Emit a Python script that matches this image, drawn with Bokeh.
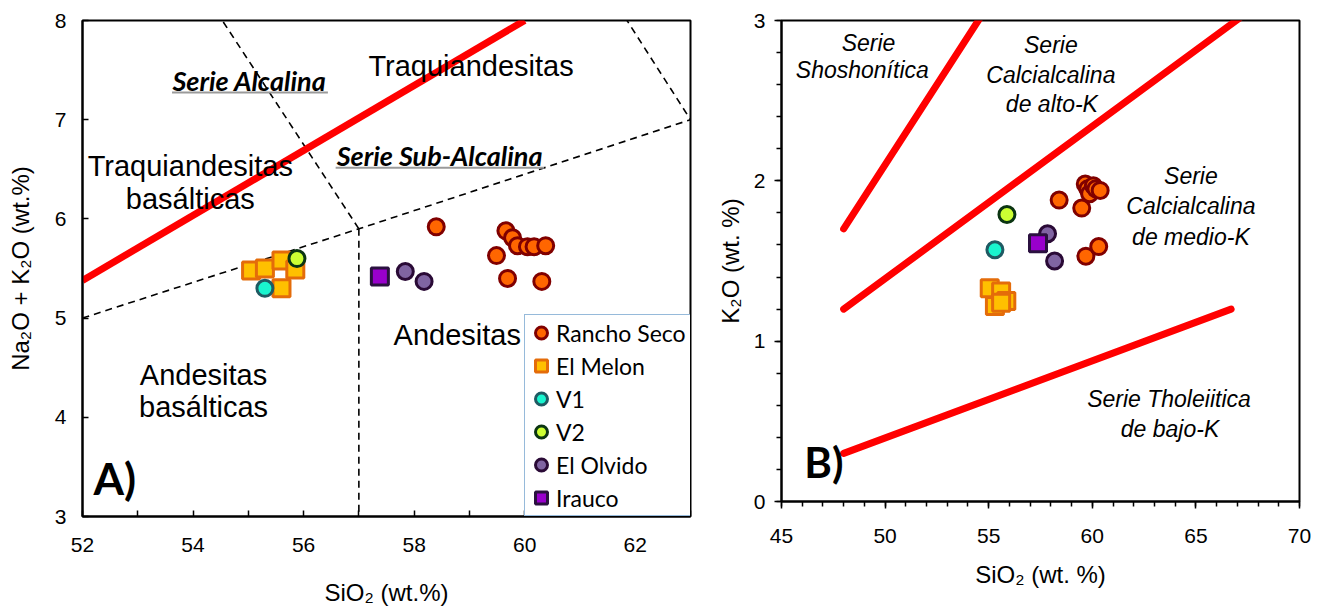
from bokeh.plotting import figure
from bokeh.models import Range1d, FixedTicker, Legend, LegendItem
from bokeh.layouts import row
from bokeh.embed import file_html
from bokeh.resources import INLINE
from bokeh.core.properties import value

# ---------------- data ----------------
rs_sio2 = [58.40, 59.66, 59.78, 59.87, 60.05, 60.17, 60.38, 59.49, 59.69, 60.31]
rs_alk = [5.92, 5.88, 5.81, 5.73, 5.72, 5.72, 5.73, 5.63, 5.40, 5.37]
rs_k2o = [1.88, 1.98, 1.95, 1.92, 1.97, 1.95, 1.94, 1.83, 1.53, 1.59]

em_sio2 = [55.05, 55.30, 55.60, 55.85, 55.60]
em_alk = [5.48, 5.50, 5.58, 5.49, 5.30]
em_k2o = [1.33, 1.22, 1.31, 1.25, 1.24]

v1_sio2 = [55.30]
v1_alk = [5.30]
v1_k2o = [1.57]

v2_sio2 = [55.88]
v2_alk = [5.60]
v2_k2o = [1.79]

eo_sio2 = [57.84, 58.18]
eo_alk = [5.47, 5.37]
eo_k2o = [1.67, 1.50]

ir_sio2 = [57.38]
ir_alk = [5.42]
ir_k2o = [1.61]

series_names = ["Rancho Seco", "El Melon", "V1", "V2", "El Olvido", "Irauco"]

# TAS boundaries (dashed) and alkaline / sub-alkaline divide (red)
tas_b1_x = [53.0, 57.0]
tas_b1_y = [9.3, 5.9]
tas_b2_x = [52.0, 57.0, 63.0]
tas_b2_y = [5.0, 5.9, 7.0]
tas_b3_x = [57.0, 57.0]
tas_b3_y = [5.9, 3.0]
tas_b4_x = [57.6, 63.0]
tas_b4_y = [11.7, 7.0]
alk_x = [52.0, 60.0]
alk_y = [5.38, 8.0]

# K2O vs SiO2 series boundaries
sho_x = [48.0, 56.0]
sho_y = [1.7, 3.3]
hk_x = [48.0, 68.0]
hk_y = [1.2, 3.1]
lk_x = [48.0, 66.7]
lk_y = [0.3, 1.2]

# ---------------- styles ----------------
ARIAL = "Liberation Sans"
CAL = "Lato"
styles = [
    dict(marker="circle", fill_color="#FF6600", line_color="#800000"),
    dict(marker="square", fill_color="#FFC000", line_color="#E46C0A"),
    dict(marker="circle", fill_color="#19F5CF", line_color="#1F5A63"),
    dict(marker="circle", fill_color="#CCFF33", line_color="#0B3512"),
    dict(marker="circle", fill_color="#8064A2", line_color="#2A0A36"),
    dict(marker="square", fill_color="#9900CC", line_color="#2B1140"),
]


def style_axes(p):
    p.outline_line_color = "black"
    p.outline_line_width = 2
    p.xgrid.visible = False
    p.ygrid.visible = False
    for ax in (p.xaxis[0], p.yaxis[0]):
        ax.axis_line_width = 2
        ax.major_tick_line_width = 1.5
        ax.minor_tick_line_width = 1.5
        ax.major_label_text_font = ARIAL
        ax.major_label_text_font_size = "21px"
        ax.major_label_text_color = "black"
        ax.axis_label_text_font = ARIAL
        ax.axis_label_text_font_size = "24px"
        ax.axis_label_text_font_style = "normal"
        ax.axis_label_text_color = "black"


# ---------------- panel A ----------------
pa = figure(frame_width=608, frame_height=496, min_border_left=82, min_border_right=23,
            min_border_top=20, min_border_bottom=89,
            x_range=Range1d(52, 63), y_range=Range1d(3, 8),
            output_backend="svg", toolbar_location=None)
style_axes(pa)
pa.xaxis.ticker = FixedTicker(ticks=[52, 54, 56, 58, 60, 62], minor_ticks=[53, 55, 57, 59, 61, 63])
pa.yaxis.ticker = FixedTicker(ticks=[3, 4, 5, 6, 7, 8], minor_ticks=[])
for ax in (pa.xaxis[0], pa.yaxis[0]):
    ax.major_tick_in = 6
    ax.major_tick_out = 0
    ax.minor_tick_in = 6
    ax.minor_tick_out = 0
pa.xaxis.major_label_standoff = 21
pa.xaxis.axis_label_standoff = 24
pa.yaxis.major_label_standoff = 16
pa.yaxis.axis_label_standoff = 18
pa.xaxis.axis_label = "SiO₂ (wt.%)"
pa.yaxis.axis_label = "Na₂O + K₂O (wt.%)"

dash = "7 5"
pa.line(tas_b1_x, tas_b1_y, line_color="black", line_width=1.6, line_dash=dash)
pa.line(tas_b2_x, tas_b2_y, line_color="black", line_width=1.6, line_dash=dash)
pa.line(tas_b3_x, tas_b3_y, line_color="black", line_width=1.6, line_dash=dash)
pa.line(tas_b4_x, tas_b4_y, line_color="black", line_width=1.6, line_dash=dash)
pa.line(alk_x, alk_y, line_color="#FF0000", line_width=7)

region = dict(text_font=value(ARIAL), text_font_size="29px", text_align="center",
              text_baseline="middle")
pa.text(x=[59.03], y=[7.54], text=["Traquiandesitas"], **region)
pa.text(x=[53.95, 53.95], y=[6.53, 6.20], text=["Traquiandesitas", "basálticas"], **region)
pa.text(x=[58.78], y=[4.83], text=["Andesitas"], **region)
pa.text(x=[54.19, 54.19], y=[4.43, 4.10], text=["Andesitas", "basálticas"], **region)
pa.text(x=[55.02, 58.46], y=[7.40, 6.64], text=["Serie Alcalina", "Serie Sub-Alcalina"],
        text_font=value(CAL), text_font_size="27px", text_font_style="bold italic",
        text_align="center", text_baseline="middle")
pa.segment(x0=[53.62, 56.58], y0=[7.275, 6.515], x1=[56.44, 60.35], y1=[7.275, 6.515],
           line_color="#9A9A9A", line_width=2)
pa.text(x=[52.2], y=[3.39], text=["A)"], text_font=value(CAL), text_font_size="44px",
        text_font_style="bold", text_align="left", text_baseline="middle")

a_data = [(rs_sio2, rs_alk), (em_sio2, em_alk), (v1_sio2, v1_alk),
          (v2_sio2, v2_alk), (eo_sio2, eo_alk), (ir_sio2, ir_alk)]
a_rends = []
for (xs, ys), st in zip(a_data, styles):
    size = 17 if st["marker"] == "square" else 16
    r = pa.scatter(xs, ys, size=size, line_width=3, **st)
    a_rends.append(r)

legend = Legend(items=[LegendItem(label=n, renderers=[r]) for n, r in zip(series_names, a_rends)],
                location=(442, 0), padding=1, margin=0, spacing=0,
                glyph_width=30, glyph_height=33, label_standoff=0, label_width=134,
                label_height=20,
                label_text_font=CAL, label_text_font_size="23px", label_text_color="black",
                border_line_color="#2E75B6", border_line_width=1.5,
                background_fill_color="white", background_fill_alpha=1.0)
pa.add_layout(legend)

# ---------------- panel B ----------------
pb = figure(frame_width=518, frame_height=481, min_border_left=63, min_border_right=20,
            min_border_top=20, min_border_bottom=104,
            x_range=Range1d(45, 70), y_range=Range1d(0, 3),
            output_backend="svg", toolbar_location=None)
style_axes(pb)
pb.xaxis.ticker = FixedTicker(ticks=[45, 50, 55, 60, 65, 70],
                              minor_ticks=[v for v in range(45, 71)])
pb.yaxis.ticker = FixedTicker(ticks=[0, 1, 2, 3],
                              minor_ticks=[i * 0.2 for i in range(16)])
for ax in (pb.xaxis[0], pb.yaxis[0]):
    ax.major_tick_in = 0
    ax.major_tick_out = 7
    ax.minor_tick_in = 0
    ax.minor_tick_out = 5
pb.xaxis.major_label_standoff = 20
pb.xaxis.axis_label_standoff = 15
pb.yaxis.major_label_standoff = 9
pb.yaxis.axis_label_standoff = 7
pb.xaxis.axis_label = "SiO₂ (wt. %)"
pb.yaxis.axis_label = "K₂O (wt. %)"

for xs, ys in ((sho_x, sho_y), (hk_x, hk_y), (lk_x, lk_y)):
    pb.line(xs, ys, line_color="#FF0000", line_width=7, line_cap="round")

it = dict(text_font=value(ARIAL), text_font_size="23px", text_font_style="italic",
          text_align="center", text_baseline="middle")
pb.text(x=[49.2, 48.9], y=[2.86, 2.69], text=["Serie", "Shoshonítica"], **it)
pb.text(x=[58.0, 58.0, 58.05], y=[2.85, 2.66, 2.48],
        text=["Serie", "Calcialcalina", "de alto-K"], **it)
pb.text(x=[64.76, 64.76, 64.76], y=[2.03, 1.84, 1.65],
        text=["Serie", "Calcialcalina", "de medio-K"], **it)
pb.text(x=[63.7, 63.75], y=[0.64, 0.455], text=["Serie Tholeiitica", "de bajo-K"], **it)
pb.text(x=[46.1], y=[0.245], text=["B)"], text_font=value(CAL), text_font_size="42px",
        text_font_style="bold", text_align="left", text_baseline="middle")

b_data = [(rs_sio2, rs_k2o), (em_sio2, em_k2o), (v1_sio2, v1_k2o),
          (v2_sio2, v2_k2o), (eo_sio2, eo_k2o), (ir_sio2, ir_k2o)]
for (xs, ys), st in zip(b_data, styles):
    size = 17 if st["marker"] == "square" else 16
    pb.scatter(xs, ys, size=size, line_width=3, **st)

layout = row(pa, pb)
open("out.html", "w").write(file_html(layout, INLINE))
